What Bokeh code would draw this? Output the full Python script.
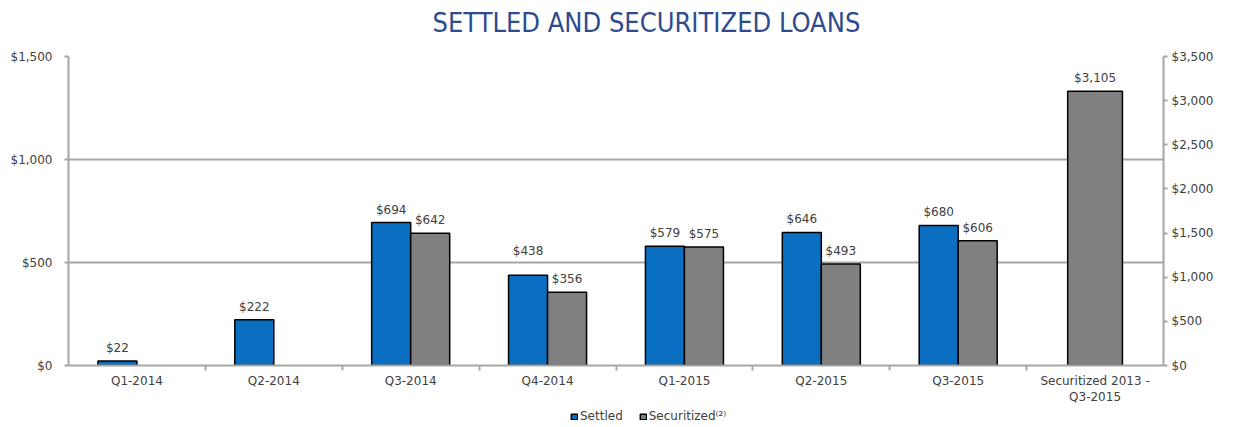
from bokeh.plotting import figure
from bokeh.layouts import column
from bokeh.models import (Range1d, LinearAxis, FixedTicker, NumeralTickFormatter,
                          ColumnDataSource, Legend, LegendItem, Label)
from bokeh.embed import file_html
from bokeh.resources import INLINE
from bokeh.core.properties import value

# ---- data ----
title_text = "SETTLED AND SECURITIZED LOANS"
categories = ["Q1-2014", "Q2-2014", "Q3-2014", "Q4-2014", "Q1-2015", "Q2-2015",
              "Q3-2015", "Securitized 2013 -\nQ3-2015"]
settled = [22, 222, 694, 438, 579, 646, 680]
securitized = [None, None, 642, 356, 575, 493, 606]
total_securitized = [3105]
left_ticks = [0, 500, 1000, 1500]
right_ticks = [0, 500, 1000, 1500, 2000, 2500, 3000, 3500]
legend_labels = ["Settled", "Securitized\u207d\u00b2\u207e"]

# ---- style ----
FONT = "DejaVu Sans"
BLUE = "#0B6FC1"
GREY = "#808080"
AXIS = "#A6A6A6"
TXT = "#404040"
BW = 0.285  # bar width in category units

W, HT, HM, HL = 1233, 44, 363, 20

# ---- title strip ----
tf = figure(width=W, height=HT, x_range=Range1d(0, 1), y_range=Range1d(0, 1),
            output_backend="svg", toolbar_location=None, min_border=0,
            x_axis_type=None, y_axis_type=None)
tf.outline_line_color = None
tf.grid.visible = False
tf.title.visible = False
tf.add_layout(Label(x=364, y=22, x_units="screen", y_units="screen",
                    text=title_text, text_font=FONT + " Condensed",
                    text_font_size="27px", text_color="#2E4B8F",
                    text_baseline="middle", text_align="left"))

# ---- main chart ----
p = figure(width=W, height=HM, x_range=Range1d(0, len(categories)),
           y_range=Range1d(0, 1500), output_backend="svg", toolbar_location=None,
           min_border_left=68, min_border_right=70, min_border_top=12,
           min_border_bottom=41)
p.extra_y_ranges = {"right": Range1d(0, 3500)}
p.outline_line_color = None
p.background_fill_color = "white"
p.border_fill_color = "white"
p.title.visible = False

# settled bars
s_idx = [i for i, v in enumerate(settled) if v is not None]
src_s = ColumnDataSource(dict(
    x=[i + 0.5 - BW / 2 for i in s_idx],
    top=[settled[i] for i in s_idx],
    lab=["${:,}".format(settled[i]) for i in s_idx],
    off=[-17 if settled[i] == 438 else -6 for i in s_idx],
))
p.vbar(x="x", top="top", width=BW, source=src_s, fill_color=BLUE,
       line_color="black", line_width=1.5)
p.text(x="x", y="top", text="lab", y_offset="off", source=src_s,
       text_font=value(FONT), text_font_size="12px", text_color=TXT,
       text_align="center", text_baseline="bottom")

# securitized bars
c_idx = [i for i, v in enumerate(securitized) if v is not None]
src_c = ColumnDataSource(dict(
    x=[i + 0.5 + BW / 2 for i in c_idx],
    top=[securitized[i] for i in c_idx],
    lab=["${:,}".format(securitized[i]) for i in c_idx],
))
p.vbar(x="x", top="top", width=BW, source=src_c, fill_color=GREY,
       line_color="black", line_width=1.5)
p.text(x="x", y="top", text="lab", y_offset=-6, source=src_c,
       text_font=value(FONT), text_font_size="12px", text_color=TXT,
       text_align="center", text_baseline="bottom")

# total securitized on right axis
src_t = ColumnDataSource(dict(
    x=[len(categories) - 0.5], top=total_securitized,
    lab=["${:,}".format(v) for v in total_securitized],
))
p.vbar(x="x", top="top", width=0.4, source=src_t, fill_color=GREY,
       line_color="black", line_width=1.5, y_range_name="right")
p.text(x="x", y="top", text="lab", y_offset=-6, source=src_t,
       y_range_name="right", text_font=value(FONT), text_font_size="12px",
       text_color=TXT, text_align="center", text_baseline="bottom")

# axes
def style_axis(ax):
    ax.axis_line_color = AXIS
    ax.axis_line_width = 2
    ax.major_tick_line_color = AXIS
    ax.major_tick_line_width = 2
    ax.minor_tick_line_color = AXIS
    ax.minor_tick_line_width = 2
    ax.major_label_text_font = FONT
    ax.major_label_text_font_size = "12px"
    ax.major_label_text_color = TXT

yl = p.yaxis[0]
yl.ticker = FixedTicker(ticks=left_ticks)
yl.formatter = NumeralTickFormatter(format="$0,0")
style_axis(yl)
yl.major_tick_in = 0
yl.major_tick_out = 4
yl.minor_tick_out = 0
yl.major_label_standoff = 12

yr = LinearAxis(y_range_name="right", ticker=FixedTicker(ticks=right_ticks),
                formatter=NumeralTickFormatter(format="$0,0"))
style_axis(yr)
yr.major_tick_in = 0
yr.major_tick_out = 4
yr.minor_tick_out = 0
yr.major_label_standoff = 4
p.add_layout(yr, "right")

xa = p.xaxis[0]
centers = [i + 0.5 for i in range(len(categories))]
xa.ticker = FixedTicker(ticks=centers, minor_ticks=list(range(1, len(categories))))
xa.major_label_overrides = {c: lab for c, lab in zip(centers, categories)}
style_axis(xa)
xa.major_tick_out = 0
xa.major_tick_in = 0
xa.minor_tick_out = 5
xa.minor_tick_in = 0
xa.major_label_standoff = 3

p.xgrid.visible = False
p.ygrid.ticker = FixedTicker(ticks=left_ticks)
p.ygrid.grid_line_color = AXIS
p.ygrid.grid_line_width = 2

# ---- legend strip (hidden copies of the bar renderers give the swatches) ----
lf = figure(width=W, height=HL, x_range=Range1d(0, len(categories)),
            y_range=Range1d(0, 1500), output_backend="svg",
            toolbar_location=None, min_border=0,
            x_axis_type=None, y_axis_type=None)
lf.outline_line_color = None
lf.grid.visible = False
lf.title.visible = False
lr_s = lf.vbar(x="x", top="top", width=BW, source=src_s, fill_color=BLUE,
               line_color="black", line_width=1.5, visible=False)
lr_c = lf.vbar(x="x", top="top", width=BW, source=src_c, fill_color=GREY,
               line_color="black", line_width=1.5, visible=False)
legend = Legend(items=[LegendItem(label=legend_labels[0], renderers=[lr_s]),
                       LegendItem(label=legend_labels[1], renderers=[lr_c])],
                orientation="horizontal", location=(502, 4),
                glyph_width=8, glyph_height=7, label_standoff=2, spacing=16,
                padding=0, margin=0, border_line_color=None,
                background_fill_alpha=0, label_height=12,
                label_text_font=FONT, label_text_font_size="12px",
                label_text_color=TXT)
lf.add_layout(legend, "center")

open("out.html", "w").write(file_html(column(tf, p, lf), INLINE))
